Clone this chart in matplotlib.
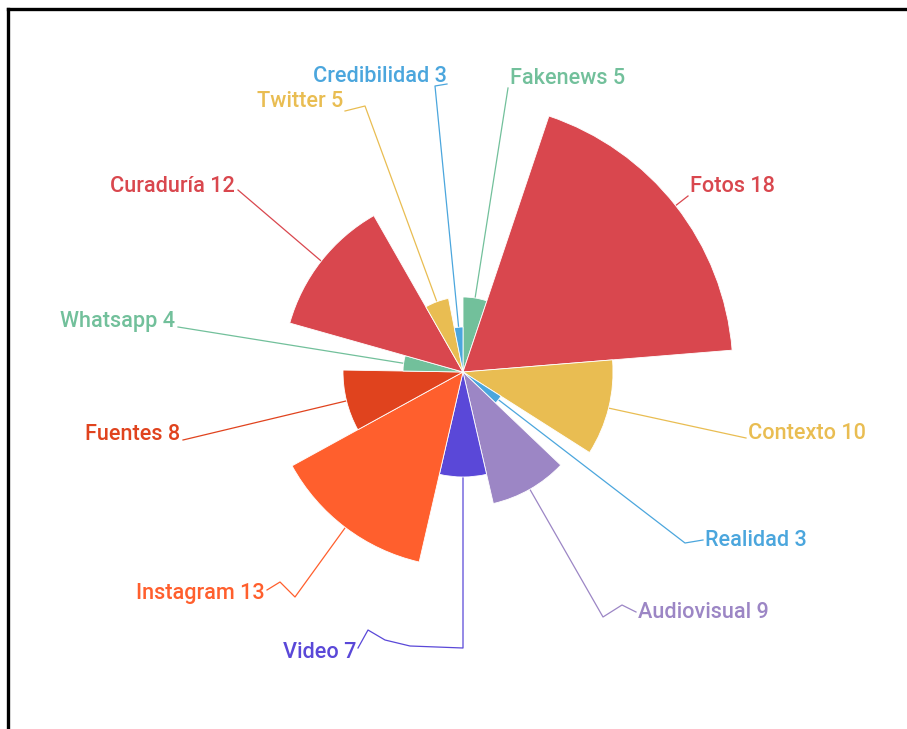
import matplotlib
matplotlib.use("Agg")
import matplotlib.pyplot as plt
from matplotlib.patches import Wedge
from matplotlib.lines import Line2D
import numpy as np

# Rose chart data (clockwise from 12 o'clock)
names = ["Fakenews", "Fotos", "Contexto", "Realidad", "Audiovisual", "Video",
         "Instagram", "Fuentes", "Whatsapp", "Curaduría", "Twitter", "Credibilidad"]
values = [5, 18, 10, 3, 9, 7, 13, 8, 4, 12, 5, 3]
colors = ["#72c09b", "#d9474e", "#e9bd52", "#4ba6dd", "#9c86c5", "#5a48d8",
          "#ff5f2d", "#e0431e", "#72c09b", "#d9474e", "#e9bd52", "#4ba6dd"]

# label anchor (x, y, ha) and leader-line bends, in canvas pixels
label_layout = {
    "Fakenews":     ((510, 78, "left"),   [(508, 88)]),
    "Fotos":        ((690, 186, "left"),  [(688, 196)]),
    "Contexto":     ((748, 433, "left"),  [(746, 438)]),
    "Realidad":     ((705, 541, "left"),  [(685, 543), (703, 540)]),
    "Audiovisual":  ((638, 612, "left"),  [(603, 617), (622, 605), (636, 612)]),
    "Video":        ((356, 652, "right"), [(463, 648), (410, 646), (385, 640), (368, 630), (358, 648)]),
    "Instagram":    ((265, 593, "right"), [(295, 597), (280, 582), (267, 590)]),
    "Fuentes":      ((180, 434, "right"), [(183, 440)]),
    "Whatsapp":     ((175, 321, "right"), [(178, 327)]),
    "Curaduría":    ((235, 186, "right"), [(238, 190)]),
    "Twitter":      ((343, 101, "right"), [(365, 106), (345, 111)]),
    "Credibilidad": ((447, 76, "right"),  [(435, 86), (447, 84)]),
}

W, H = 907, 729
cx, cy = 463, 372
px_per_unit = 15.0

plt.rcParams["font.family"] = ["Roboto", "DejaVu Sans"]

fig = plt.figure(figsize=(W / 100, H / 100), dpi=100)
ax = fig.add_axes([0, 0, 1, 1])
ax.set_xlim(0, W)
ax.set_ylim(H, 0)
ax.set_aspect("equal")
ax.axis("off")

total = sum(values)
start = 0.0
for name, val, col in zip(names, values, colors):
    span = val / total * 360.0
    r = val * px_per_unit
    # screen angle clockwise from north -> data angle with inverted y
    ax.add_patch(Wedge((cx, cy), r, start - 90, start + span - 90,
                       facecolor=col, edgecolor="white", linewidth=0.6, zorder=2))
    mid = np.radians(start + span / 2)
    x0 = cx + r * np.sin(mid)
    y0 = cy - r * np.cos(mid)
    (tx, ty, ha), bends = label_layout[name]
    xs = [x0] + [p[0] for p in bends]
    ys = [y0] + [p[1] for p in bends]
    ax.plot(xs, ys, color=col, linewidth=0.9, zorder=1)
    ax.text(tx, ty, f"{name} {val}", color=col, fontsize=15.6, fontweight="medium",
            ha=ha, va="center", zorder=3)
    start += span

# frame lines along the top and left edges
fig.add_artist(Line2D([8 / W, 8 / W], [0, 1 - 9 / H], transform=fig.transFigure,
                      color="black", linewidth=2.4))
fig.add_artist(Line2D([8 / W, 1], [1 - 9 / H, 1 - 9 / H], transform=fig.transFigure,
                      color="black", linewidth=2.4))

fig.savefig("out.png", dpi=100, facecolor="white")
